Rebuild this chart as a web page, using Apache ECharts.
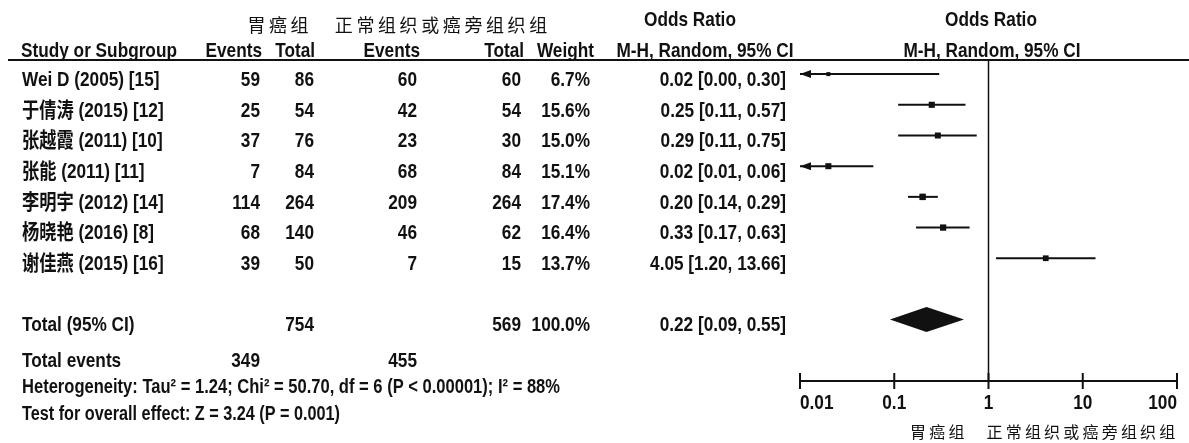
<!DOCTYPE html>
<html>
<head>
<meta charset="utf-8">
<script src="https://cdn.jsdelivr.net/npm/echarts@6/dist/echarts.min.js"></script>
<style>
  html, body { margin: 0; padding: 0; background: #fff; }
  #chart { width: 1189px; height: 443px; }
</style>
</head>
<body>
<div id="chart"></div>
<script>
// ---- study data ----
const studies = ['Wei D (2005) [15]', '于倩涛 (2015) [12]', '张越霞 (2011) [10]', '张能 (2011) [11]',
                 '李明宇 (2012) [14]', '杨晓艳 (2016) [8]', '谢佳燕 (2015) [16]'];
const eventsCase = [59, 25, 37, 7, 114, 68, 39];
const totalCase  = [86, 54, 76, 84, 264, 140, 50];
const eventsCtrl = [60, 42, 23, 68, 209, 46, 7];
const totalCtrl  = [60, 54, 30, 84, 264, 62, 15];
const weights    = [6.7, 15.6, 15.0, 15.1, 17.4, 16.4, 13.7];
const oddsRatio  = [0.02, 0.25, 0.29, 0.02, 0.20, 0.33, 4.05];
const ciLower    = [0.002, 0.11, 0.11, 0.007, 0.14, 0.17, 1.20];
const ciUpper    = [0.30, 0.57, 0.75, 0.06, 0.29, 0.63, 13.66];

// ---- pooled result ----
const pooledOR = 0.22, pooledLower = 0.09, pooledUpper = 0.55;
const pooledTotalCase = 754, pooledTotalCtrl = 569;
const pooledEventsCase = 349, pooledEventsCtrl = 455;
const heterogeneityText = 'Heterogeneity: Tau² = 1.24; Chi² = 50.70, df = 6 (P < 0.00001); I² = 88%';
const overallEffectText = 'Test for overall effect: Z = 3.24 (P = 0.001)';

// ---- axis ----
const tickValues = [0.01, 0.1, 1, 10, 100];
const tickLabels = ['0.01', '0.1', '1', '10', '100'];
const groupCase = '胃癌组';
const groupCtrl = '正常组织或癌旁组织组';

const AXIS_ROW = 10, POOLED_ROW = 8;
const FONT = "'Liberation Sans','Noto Sans CJK SC',sans-serif";
const CJK = "'Noto Sans CJK SC',sans-serif";
const INK = '#111';
const NARROW = 0.82;   // horizontal squeeze giving a condensed face

const chart = echarts.init(document.getElementById('chart'), null, { renderer: 'canvas' });

const fmt = v => v.toFixed(2);
const ciText = (o, l, h) => fmt(o) + ' [' + fmt(l) + ', ' + fmt(h) + ']';
const spaced = s => s.split('').join('\u2009');

chart.setOption({
  animation: false,
  grid: { left: 800, right: 12, top: 60, bottom: 62 },
  xAxis: {
    type: 'log', logBase: 10, min: 0.01, max: 100, splitNumber: 4,
    axisLine: { onZero: false, lineStyle: { color: INK, width: 2 } },
    axisTick: { show: false },
    splitLine: { show: false },
    axisLabel: { show: false }
  },
  yAxis: { type: 'value', inverse: true, min: -0.46, max: AXIS_ROW, show: false },
  series: [
    { // line of no effect
      type: 'line', symbol: 'none', silent: true,
      lineStyle: { color: INK, width: 1.5 },
      data: [[1, -0.46], [1, AXIS_ROW]]
    },
    { // tick marks crossing the axis, with condensed tick labels
      type: 'custom', silent: true,
      data: tickValues.map((v, k) => [v, AXIS_ROW, k]),
      renderItem: (params, api) => {
        const p = api.coord([api.value(0), api.value(1)]);
        const k = api.value(2);
        const align = k === 0 ? 'left' : (k === tickValues.length - 1 ? 'right' : 'center');
        return { type: 'group', children: [
          { type: 'line', shape: { x1: p[0], y1: p[1] - 8, x2: p[0], y2: p[1] + 8 },
            style: { stroke: INK, lineWidth: 2 } },
          { type: 'text', x: p[0], y: p[1] + 22, scaleX: NARROW,
            style: { text: tickLabels[k], fill: INK, align: align, verticalAlign: 'middle',
                     font: 'bold 21px ' + FONT } }
        ] };
      }
    },
    { // study estimates with confidence intervals
      type: 'custom', silent: true,
      data: studies.map((s, i) => [oddsRatio[i], i, ciLower[i], ciUpper[i], weights[i]]),
      encode: { x: 0, y: 1 },
      renderItem: (params, api) => {
        const row = api.value(1);
        const lo = api.value(2), hi = api.value(3);
        const minX = tickValues[0];
        const pc = api.coord([api.value(0), row]);
        const pl = api.coord([Math.max(lo, minX), row]);
        const ph = api.coord([hi, row]);
        const side = 1.55 * Math.sqrt(api.value(4));
        const kids = [
          { type: 'line', shape: { x1: pl[0], y1: pl[1], x2: ph[0], y2: ph[1] },
            style: { stroke: INK, lineWidth: 2 } },
          { type: 'rect', shape: { x: pc[0] - side / 2, y: pc[1] - side / 2, width: side, height: side },
            style: { fill: INK } }
        ];
        if (lo < minX) {
          kids.push({ type: 'polygon',
            shape: { points: [[pl[0], pl[1]], [pl[0] + 11, pl[1] - 4], [pl[0] + 11, pl[1] + 4]] },
            style: { fill: INK } });
        }
        return { type: 'group', children: kids };
      }
    },
    { // pooled estimate diamond
      type: 'custom', silent: true,
      data: [[pooledOR, POOLED_ROW, pooledLower, pooledUpper]],
      encode: { x: 0, y: 1 },
      renderItem: (params, api) => {
        const row = api.value(1);
        const c = api.coord([api.value(0), row]);
        const l = api.coord([api.value(2), row]);
        const h = api.coord([api.value(3), row]);
        const half = 12.5;
        return { type: 'polygon',
          shape: { points: [[l[0], l[1]], [c[0], c[1] - half], [h[0], h[1]], [c[0], c[1] + half]] },
          style: { fill: INK } };
      }
    }
  ]
});

// ---- table text, placed on the same row scale as the plot ----
const measureCtx = document.createElement('canvas').getContext('2d');
const textWidth = (text, font) => { measureCtx.font = font; return measureCtx.measureText(text).width; };

const rowY = r => chart.convertToPixel({ yAxisIndex: 0 }, r) + 6;
const g = [];
const txt = (text, x, y, align, opts = {}) => {
  const font = (opts.weight || 'bold') + ' ' + (opts.size || 21) + 'px ' + (opts.family || FONT);
  let sx = opts.scaleX != null ? opts.scaleX : NARROW;
  if (opts.fitWidth) sx = opts.fitWidth / textWidth(text, font);
  g.push({
    type: 'text', x, y, silent: true, scaleX: sx,
    style: { text, fill: opts.fill || INK, align, verticalAlign: 'middle', font }
  });
};

// column anchors
const COL = { name: 22, ev1: 260, tot1: 314, ev2: 417, tot2: 521, wt: 590, or: 786 };

// top group labels
txt(spaced(groupCase), 278, 25, 'center', { family: CJK, size: 18, weight: 'normal', scaleX: 1 });
txt(spaced(groupCtrl), 441, 25, 'center', { family: CJK, size: 18, weight: 'normal', scaleX: 1 });
txt('Odds Ratio', 690, 20, 'center');
txt('Odds Ratio', 991, 20, 'center');

// header row
const HY = 51;
txt('Study or Subgroup', 21, HY, 'left');
txt('Events', 262, HY, 'right');
txt('Total', 315, HY, 'right');
txt('Events', 420, HY, 'right');
txt('Total', 524, HY, 'right');
txt('Weight', 594, HY, 'right');
txt('M-H, Random, 95% CI', 705, HY, 'center');
txt('M-H, Random, 95% CI', 992, HY, 'center');
g.push({ type: 'line', silent: true, shape: { x1: 8, y1: 60, x2: 1189, y2: 60 },
         style: { stroke: INK, lineWidth: 2 } });

// study rows
studies.forEach((s, i) => {
  const y = rowY(i);
  txt(s, COL.name, y, 'left');
  txt(String(eventsCase[i]), COL.ev1, y, 'right');
  txt(String(totalCase[i]), COL.tot1, y, 'right');
  txt(String(eventsCtrl[i]), COL.ev2, y, 'right');
  txt(String(totalCtrl[i]), COL.tot2, y, 'right');
  txt(weights[i].toFixed(1) + '%', COL.wt, y, 'right');
  txt(ciText(oddsRatio[i], ciLower[i], ciUpper[i]), COL.or, y, 'right');
});

// totals
let y = rowY(POOLED_ROW);
txt('Total (95% CI)', COL.name, y, 'left');
txt(String(pooledTotalCase), COL.tot1, y, 'right');
txt(String(pooledTotalCtrl), COL.tot2, y, 'right');
txt('100.0%', COL.wt, y, 'right');
txt(ciText(pooledOR, pooledLower, pooledUpper), COL.or, y, 'right');

y = rowY(9.15);
txt('Total events', COL.name, y, 'left');
txt(String(pooledEventsCase), COL.ev1, y, 'right');
txt(String(pooledEventsCtrl), COL.ev2, y, 'right');

txt(heterogeneityText, COL.name, rowY(10.03), 'left', { size: 20, fitWidth: 538 });
txt(overallEffectText, COL.name, rowY(10.88), 'left', { size: 20, fitWidth: 318 });

// group labels under the axis
const oneX = chart.convertToPixel({ xAxisIndex: 0 }, 1);
txt(spaced(groupCase), oneX - 24, 432, 'right', { family: CJK, size: 16, weight: 'normal', scaleX: 1 });
txt(spaced(groupCtrl), oneX - 2, 432, 'left', { family: CJK, size: 16, weight: 'normal', scaleX: 1 });

chart.setOption({ graphic: g });
</script>
</body>
</html>
